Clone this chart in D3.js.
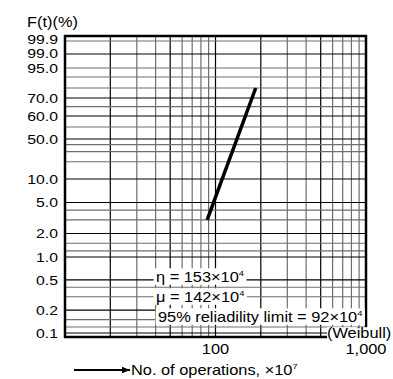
<!DOCTYPE html>
<html><head><meta charset="utf-8">
<script src="https://cdn.jsdelivr.net/npm/d3@7"></script>
<style>
body{margin:0;background:#fff}
svg{display:block;font-family:"Liberation Sans",Arial,Helvetica,sans-serif}
</style>
</head><body>
<svg id="chart" width="393" height="379"></svg>
<script>
// Number of operations (x) - labelled ticks and grid
const xTickValues = [100, 1000];
const xTickLabels = ["100", "1,000"];
const xGrid = [20, 30, 40, 50, 60, 70, 80, 90, 100, 200, 300, 400, 500, 600, 700, 800, 900];
const xGridMajor = [20, 50, 100, 200, 500];

// Cumulative failure F(t) in % (y) - labelled ticks and grid
const yTickValues = [0.1, 0.2, 0.5, 1, 2, 5, 10, 50, 60, 70, 95, 99, 99.9];
const yTickLabels = ["0.1", "0.2", "0.5", "1.0", "2.0", "5.0", "10.0", "50.0", "60.0", "70.0", "95.0", "99.0", "99.9"];
const yGrid = [0.1, 0.12, 0.15, 0.2, 0.3, 0.4, 0.5, 1, 1.2, 1.5, 2, 3, 4, 5, 10, 20, 30, 40, 50, 55, 60, 65, 70, 80, 90, 95, 99, 99.9];
const yGridMajor = [0.1, 0.2, 0.5, 1, 2, 5, 10, 50, 60, 70, 99];

// Fitted Weibull line: operations vs F(t) %
const fitOps = [88, 185];
const fitF = [3, 80];

// Annotations
const annotations = [
  {base: "\u03b7 = 153\u00d710", exp: "4"},
  {base: "\u03bc = 142\u00d710", exp: "4"},
  {base: "95% reliadility limit = 92\u00d710", exp: "4"}
];

const FS = 14;      // font size
const SX = 1.17;    // horizontal stretch of the lettering

const svg = d3.select("#chart");
const plot = {left: 65, right: 366, top: 36, bottom: 337};

const x = d3.scaleLog().domain([10, 1000]).range([plot.left, plot.right]);

// Probability paper: piecewise log-based scale through the printed knots
const yKnots = [0.1, 1, 10, 50, 60, 70, 80, 90, 95, 99, 99.9];
const yKnotPos = [333, 257, 179, 139, 116, 98, 88, 77, 68, 54, 41];
const yT = d3.scaleLinear().domain(yKnots.map(Math.log10)).range(yKnotPos);
const y = v => yT(Math.log10(v));

// stretched text helper
function label(parent, px, py, anchor) {
  const g = parent.append("g").attr("transform", `translate(${px},${py}) scale(${SX},1)`);
  const t = g.append("text").attr("text-anchor", anchor).attr("dy", "0.36em").attr("font-size", FS);
  return {g, t};
}

const gridG = svg.append("g");
gridG.selectAll("line.vx").data(xGrid).join("line")
  .attr("x1", d => x(d)).attr("x2", d => x(d))
  .attr("y1", plot.top).attr("y2", plot.bottom)
  .attr("stroke", d => xGridMajor.includes(d) ? "#000" : "#6e6e6e")
  .attr("stroke-width", 1.2);
gridG.selectAll("line.hy").data(yGrid).join("line")
  .attr("x1", plot.left).attr("x2", plot.right)
  .attr("y1", d => y(d)).attr("y2", d => y(d))
  .attr("stroke", d => yGridMajor.includes(d) ? "#000" : "#6e6e6e")
  .attr("stroke-width", 1.2);

// frame
svg.append("rect")
  .attr("x", plot.left).attr("y", plot.top)
  .attr("width", plot.right - plot.left).attr("height", plot.bottom - plot.top)
  .attr("fill", "none").attr("stroke", "#000").attr("stroke-width", 2.5);

// fitted line
const pts = fitOps.map((o, i) => [x(o), y(fitF[i])]);
svg.append("path")
  .attr("d", d3.line()(pts))
  .attr("stroke", "#000").attr("stroke-width", 3.5).attr("fill", "none");

// y labels (the top two sit slightly apart to stay legible)
const labelNudge = {"99.9": -1.5, "99.0": -0.5};
yTickValues.forEach((v, i) => {
  const s = yTickLabels[i];
  label(svg, 58, y(v) + (labelNudge[s] || 0), "end").t.attr("font-size", 13.5).text(s);
});
label(svg, 27, 22, "start").t.text("F(t)(%)");

// x labels
xTickValues.forEach((v, i) => label(svg, x(v), 349, "middle").t.text(xTickLabels[i]));

// annotation boxes
const annY = [277, 297, 317];
const annX = [156, 156, 158];
annotations.forEach((a, i) => {
  const {g, t} = label(svg, annX[i], annY[i], "start");
  t.append("tspan").text(a.base);
  t.append("tspan").attr("font-size", 8).attr("dy", "-0.8em").text(a.exp);
  const bb = t.node().getBBox();
  g.insert("rect", "text").attr("x", bb.x - 2).attr("y", bb.y).attr("width", bb.width + 4).attr("height", bb.height).attr("fill", "#fff");
});

// Weibull tag
{
  const {g, t} = label(svg, 327, 333, "start");
  t.text("(Weibull)");
  const bb = t.node().getBBox();
  g.insert("rect", "text").attr("x", bb.x).attr("y", bb.y + 2).attr("width", bb.width + 4).attr("height", bb.height - 3).attr("fill", "#fff");
}

// x axis caption with arrow
svg.append("defs").append("marker").attr("id", "ah")
  .attr("viewBox", "0 0 10 10").attr("refX", 10).attr("refY", 5)
  .attr("markerWidth", 4.5).attr("markerHeight", 4).attr("orient", "auto")
  .append("path").attr("d", "M0,1L10,5L0,9Z").attr("fill", "#000");
svg.append("line").attr("x1", 74).attr("x2", 130).attr("y1", 370).attr("y2", 370)
  .attr("stroke", "#000").attr("stroke-width", 2).attr("marker-end", "url(#ah)");
{
  const {t} = label(svg, 131, 370, "start");
  t.append("tspan").text("No. of operations, \u00d710");
  t.append("tspan").attr("font-size", 8).attr("dy", "-0.8em").text("7");
}
</script>
</body></html>
